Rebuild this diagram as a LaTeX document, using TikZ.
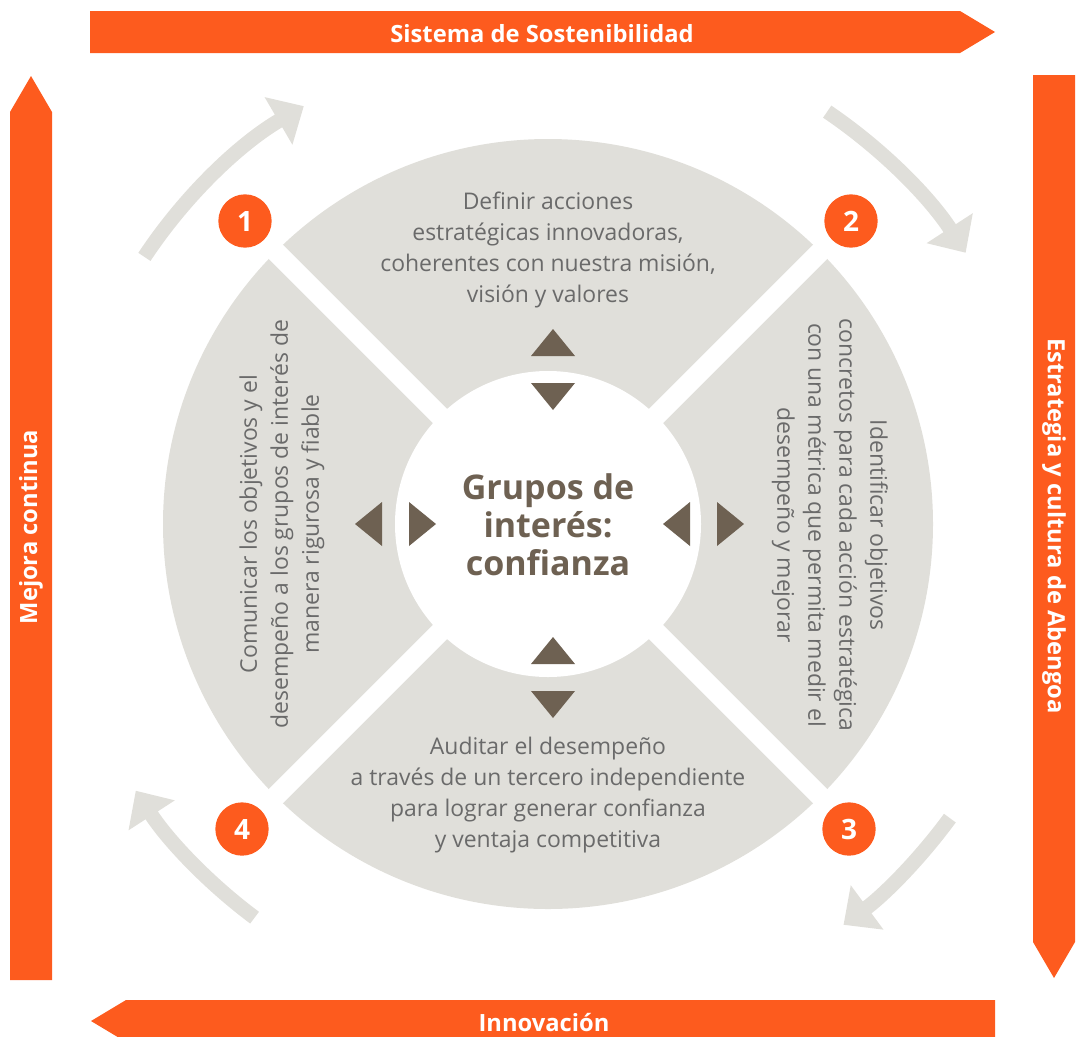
\documentclass[tikz,border=0pt]{standalone}
\usepackage{fontspec}
\setmainfont{Open Sans}
\usetikzlibrary{arrows.meta,calc}

\definecolor{naranja}{HTML}{FD5B1E}
\definecolor{gris}{HTML}{E0DFDA}
\definecolor{marron}{HTML}{6E6152}
\definecolor{texto}{HTML}{6A6A6A}

\tikzset{
  banda/.style={fill=naranja, draw=none},
  bandtext/.style={text=white, inner sep=0pt, font=\bfseries\fontsize{17.8}{20}\selectfont},
  ciclo/.style={draw=gris, line width=11pt, -{Triangle[width=40pt,length=22pt]}},
  numero/.style={circle, fill=naranja, text=white, minimum size=40pt, inner sep=0pt,
    font=\bfseries\fontsize{21}{21}\selectfont},
  fase/.style={text=texto, align=center, inner sep=0pt, font=\fontsize{17.2}{23.25}\selectfont},
  nucleo/.style={text=marron, align=center, inner sep=0pt, font=\bfseries\fontsize{25.5}{28.5}\selectfont},
  flecha/.style={fill=marron, draw=none},
}

\begin{document}
\begin{tikzpicture}[x=0.75pt, y=-0.75pt]
      \useasboundingbox (0,0) rectangle (1077,1036);
      \clip (0,0) rectangle (1077,1036);

      % bandas exteriores
      \fill[banda] (90,11) -- (960,11) -- (995,32) -- (960,53) -- (90,53) -- cycle;
      \fill[banda] (1033,75) -- (1075,75) -- (1075,942) -- (1054,978) -- (1033,942) -- cycle;
      \fill[banda] (995,1000) -- (995,1042) -- (126,1042) -- (91,1021) -- (126,1000) -- cycle;
      \fill[banda] (10,980) -- (10,112) -- (31,76) -- (52,112) -- (52,980) -- cycle;

      \node[bandtext] (sistema) at (542,34) {Sistema de Sostenibilidad};
      \node[bandtext, rotate=-90] (estrategia) at (1054,526) {Estrategia y cultura de Abengoa};
      \node[bandtext] (innovacion) at (544,1023) {Innovación};
      \node[bandtext, rotate=90] (mejora) at (31,527) {Mejora continua};

      % circulo central
      \coordinate (c) at (548,524);
      \fill[gris] (c) circle[radius=385];
      \draw[white, line width=15pt] (c) -- ++(45:390);
      \draw[white, line width=15pt] (c) -- ++(135:390);
      \draw[white, line width=15pt] (c) -- ++(225:390);
      \draw[white, line width=15pt] (c) -- ++(315:390);
      \fill[white] (c) circle[radius=153];

      % flechas del ciclo
      \draw[ciclo] ($(c)+(-146.5:484)$) arc[start angle=-146.5, end angle=-120.3, radius=484];
      \draw[ciclo] ($(c)+(-55.9:498)$) arc[start angle=-55.9, end angle=-33, radius=498];
      \draw[ciclo] ($(c)+(36.2:498)$) arc[start angle=36.2, end angle=53.6, radius=498];
      \draw[ciclo] ($(c)+(126.7:491)$) arc[start angle=126.7, end angle=147.1, radius=491];

      % triangulos
      \fill[flecha] (531,356) -- (553,329) -- (575,356) -- cycle;
      \fill[flecha] (531,383) -- (575,383) -- (553,410) -- cycle;
      \fill[flecha] (531,664) -- (553,637) -- (575,664) -- cycle;
      \fill[flecha] (531,691) -- (575,691) -- (553,718) -- cycle;
      \fill[flecha] (382,502) -- (382,546) -- (355,524) -- cycle;
      \fill[flecha] (409,502) -- (409,546) -- (436,524) -- cycle;
      \fill[flecha] (690,502) -- (690,546) -- (663,524) -- cycle;
      \fill[flecha] (717,502) -- (717,546) -- (744,524) -- cycle;

      % textos
      \node[nucleo] (grupos) at (548,525) {Grupos de\\interés:\\confianza};

      \node[fase] (definir) at (548,250) {Definir acciones\\estratégicas innovadoras,\\coherentes con nuestra misión,\\visión y valores};
      \node[fase, rotate=-90] (identificar) at (830,525) {Identificar objetivos\\concretos para cada acción estratégica\\con una métrica que permita medir el\\desempeño y mejorar};
      \node[fase] (auditar) at (548,795) {Auditar el desempeño\\a través de un tercero independiente\\para lograr generar confianza\\y ventaja competitiva};
      \node[fase, rotate=90] (comunicar) at (282,524) {Comunicar los objetivos y el\\desempeño a los grupos de interés de\\manera rigurosa y fiable};

      % numeros
      \node[numero] (n1) at (245,221) {1};
      \node[numero] (n2) at (851,221) {2};
      \node[numero] (n3) at (849,829) {3};
      \node[numero] (n4) at (242,829) {4};
\end{tikzpicture}
\end{document}
